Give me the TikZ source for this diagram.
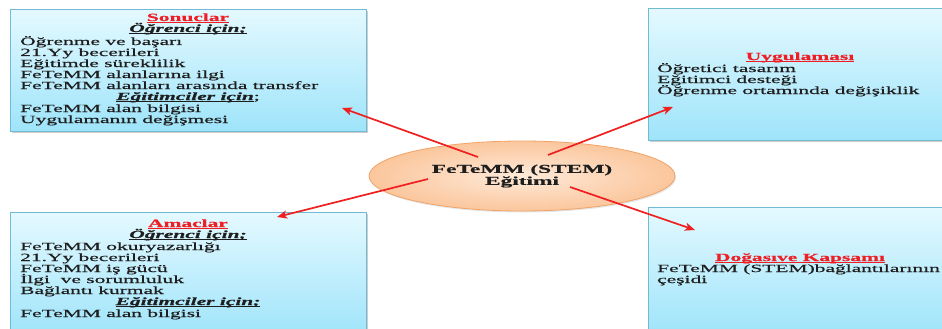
\documentclass[tikz,border=0pt]{standalone}
\usepackage{fontspec}
\setmainfont{Liberation Serif}[FakeStretch=1.95, FakeBold=0.6]
\usetikzlibrary{shapes.geometric,shadows,arrows.meta}
\definecolor{boxtop}{RGB}{228,249,255}
\definecolor{boxbot}{RGB}{158,228,250}
\definecolor{boxline}{RGB}{112,186,212}
\definecolor{ellin}{RGB}{254,234,218}
\definecolor{ellout}{RGB}{251,198,156}
\definecolor{elline}{RGB}{240,164,104}
\definecolor{titlered}{RGB}{238,30,36}
\definecolor{arrred}{RGB}{238,32,32}
\definecolor{txt}{RGB}{30,30,30}
\newcommand\myul[1]{\setbox0\hbox{#1}\rlap{\rule[-1.3pt]{\wd0}{0.7pt}}\box0}
\begin{document}
\begin{tikzpicture}[x=1pt,y=-1pt,
  box/.style={draw=boxline, line width=0.8pt, top color=boxtop, bottom color=boxbot,
    anchor=north west, inner sep=0pt,
    drop shadow={shadow xshift=1.3pt, shadow yshift=-1.5pt, opacity=0.35, fill=black!55}},
  ell/.style={ellipse, draw=elline, line width=0.8pt, inner color=ellin, outer color=ellout,
    minimum width=306pt, minimum height=70pt, inner sep=0pt, align=center, text=txt,
    font=\fontsize{12}{12}\selectfont\bfseries,
    drop shadow={shadow xshift=1pt, shadow yshift=-1.5pt, opacity=0.2, fill=black!50}},
  body/.style={anchor=base west, inner sep=0pt, text=txt, font=\fontsize{11}{11}\selectfont},
  ttl/.style={anchor=base, inner sep=0pt, text=titlered, font=\fontsize{11}{11}\selectfont\bfseries},
  sub/.style={anchor=base, inner sep=0pt, text=txt, font=\fontsize{11}{11}\selectfont\bfseries\itshape},
  arr/.style={draw=arrred, line width=1.7pt, -{Stealth[length=10pt,width=8pt,inset=2.5pt]}}
]
\useasboundingbox (0,0) rectangle (942,329);
\fill[white] (0,0) rectangle (942,329);
\clip (0,0) rectangle (942,329);

% boxes
\node[box, minimum width=356pt, minimum height=122pt] (sonuc) at (10,9) {};
\node[box, minimum width=356pt, minimum height=125pt] (amac) at (10,212) {};
\node[box, minimum width=310pt, minimum height=132pt] (uygu) at (648,8) {};
\node[box, minimum width=310pt, minimum height=128pt] (doga) at (648,207) {};

% centre
\node[ell] (core) at (522,176) {FeTeMM (STEM)\\Eğitimi};

% Sonuclar
\node[ttl] (s0) at (188,21) {\myul{Sonuclar}};
\node[sub] (s1) at (188,32) {\myul{Öğrenci için;}};
\node[body] (s2) at (20,45) {Öğrenme ve başarı};
\node[body] (s3) at (20,56) {21.Yy becerileri};
\node[body] (s4) at (20,67) {Eğitimde süreklilik};
\node[body] (s5) at (20,78) {FeTeMM alanlarına ilgi};
\node[body] (s6) at (20,89) {FeTeMM alanları arasında transfer};
\node[sub] (s7) at (188,100) {\myul{Eğitimciler için}{\mdseries\upshape;}};
\node[body] (s8) at (20,112) {FeTeMM alan bilgisi};
\node[body] (s9) at (20,123) {Uygulamanın değişmesi};

% Amaclar
\node[ttl] (m0) at (188,227) {\myul{Amaclar}};
\node[sub] (m1) at (188,238) {\myul{Öğrenci için;}};
\node[body] (m2) at (20,250) {FeTeMM okuryazarlığı};
\node[body] (m3) at (20,261) {21.Yy becerileri};
\node[body] (m4) at (20,272) {FeTeMM iş gücü};
\node[body] (m5) at (20,283) {İlgi \ ve sorumluluk};
\node[body] (m6) at (20,294) {Bağlantı kurmak};
\node[sub] (m7) at (188,305) {\myul{Eğitimciler için;}};
\node[body] (m8) at (20,317) {FeTeMM alan bilgisi};

% Uygulamasi
\node[ttl] (u0) at (800,60) {\myul{Uygulaması}};
\node[body] (u1) at (657,72) {Öğretici tasarım};
\node[body] (u2) at (657,83) {Eğitimci desteği};
\node[body] (u3) at (657,94) {Öğrenme ortamında değişiklik};

% Dogasi
\node[ttl] (d0) at (800,261) {\myul{Doğasıve Kapsamı}};
\node[body] (d1) at (657,272) {FeTeMM (STEM)bağlantılarının};
\node[body] (d2) at (657,283) {çeşidi};

% arrows
\coordinate (a1s) at (478,157); \coordinate (a1e) at (342,108);
\coordinate (a2s) at (548,155); \coordinate (a2e) at (673,107);
\coordinate (a3s) at (428,179); \coordinate (a3e) at (277,217);
\coordinate (a4s) at (570,187); \coordinate (a4e) at (695,230);
\draw[arr] (a1s) -- (a1e);
\draw[arr] (a2s) -- (a2e);
\draw[arr] (a3s) -- (a3e);
\draw[arr] (a4s) -- (a4e);
\end{tikzpicture}
\end{document}
